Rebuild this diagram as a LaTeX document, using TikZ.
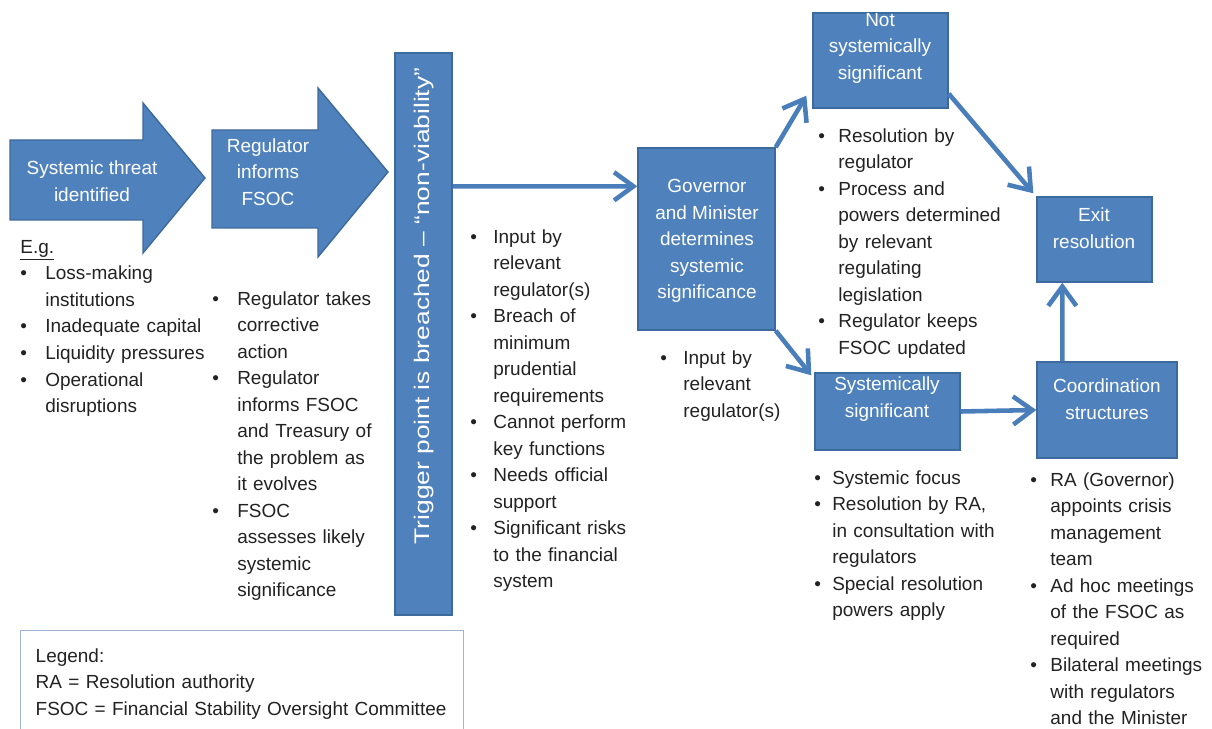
\documentclass[tikz,border=0pt]{standalone}
\usepackage{fontspec}
\setmainfont{Liberation Sans}
\usetikzlibrary{arrows.meta}

\definecolor{boxblue}{HTML}{4F81BD}
\definecolor{boxedge}{HTML}{3D6A9C}
\definecolor{linkblue}{HTML}{4A7EBB}
\definecolor{inktext}{HTML}{222222}
\definecolor{legendedge}{HTML}{9DB5D3}

\newlength{\bulind}
\newcommand{\bitem}[1]{\hangindent=\bulind\hangafter=1\noindent\makebox[\bulind][l]{\textbullet}#1\par}
\newcommand{\notefont}{\fontsize{10.8}{15.1}\selectfont}

\begin{document}
\begin{tikzpicture}[x=0.02cm,y=-0.02cm,>={Straight Barb[length=11pt,width=16pt]}]
        \tikzstyle{box}=[draw=boxedge,fill=boxblue,line width=0.8pt,inner sep=0pt]
        \tikzstyle{boxtext}=[text=white,align=center,font=\notefont,inner sep=0pt]
        \tikzstyle{link}=[draw=linkblue,line width=2.6pt,->]
        \tikzstyle{legend}=[draw=legendedge,line width=0.8pt,anchor=north west,align=left,inner xsep=0.3cm,inner ysep=0.36cm,text width=8.26cm,text=inktext,font=\notefont]
        \tikzset{notes/.style={anchor=north west,inner sep=0pt,text width=4.2cm,align=left,text=inktext,font=\notefont,execute at begin node={\setlength{\bulind}{#1}}}}
        \useasboundingbox (0,0) rectangle (1212,729);

        % first two steps
        \filldraw[box] (10,140) -- (143,140) -- (143,103) -- (205,178) -- (143,253) -- (143,220) -- (10,220) -- cycle;
        \node[boxtext] (threat) at (92,181) {Systemic threat\\identified};
        \filldraw[box] (212,130) -- (318,130) -- (318,88) -- (388,172) -- (318,257) -- (318,228) -- (212,228) -- cycle;
        \node[boxtext] (inform) at (268,172) {Regulator\\informs\\FSOC};

        % boxes
        \node[box,minimum width=1.14cm,minimum height=11.24cm] (trig) at (423.5,334) {};
        \node[boxtext,rotate=90,xscale=1.25,transform shape,font=\fontsize{12}{15}\selectfont] (trigtext) at (424,306) {Trigger point is breached – “non-viability”};
        \node[box,minimum width=2.74cm,minimum height=3.64cm] (gov) at (706.5,239) {};
        \node[boxtext] (govtext) at (707,241) {Governor\\and Minister\\determines\\systemic\\significance};
        \node[box,minimum width=2.7cm,minimum height=1.9cm] (ns) at (880.5,60.5) {};
        \node[boxtext] (nstext) at (880,48) {Not\\systemically\\significant};
        \node[box,minimum width=2.9cm,minimum height=1.54cm] (ss) at (887.5,411.5) {};
        \node[boxtext] (sstext) at (887,399) {Systemically\\significant};
        \node[box,minimum width=2.3cm,minimum height=1.7cm] (ex) at (1094.5,239.5) {};
        \node[boxtext] (extext) at (1094,228) {Exit\\resolution};
        \node[box,minimum width=2.8cm,minimum height=1.92cm] (co) at (1107,410) {};
        \node[boxtext] (cotext) at (1107,399) {Coordination\\structures};

        % connectors
        \draw[link] ([shift={(0,134)}]trig.north east) -- ([shift={(0,39)}]gov.north west);
        \draw[link] (gov.north east) -- ([shift={(-6,-13)}]ns.south west);
        \draw[link] (gov.south east) -- ([shift={(-3,3)}]ss.north west);
        \draw[link] ([shift={(0,-15)}]ns.south east) -- ([shift={(-3,-3)}]ex.north west);
        \draw[link] (ss.east) -- (co.west);
        \draw[link] ([shift={(26,0)}]co.north west) -- ([shift={(26,0)}]ex.south west);

        % bullet lists
        \node[notes=14.2pt] (eg) at (20,240) {\underline{E.g.}\par
          \bitem{Loss-making\newline institutions}
          \bitem{Inadequate capital}
          \bitem{Liquidity pressures}
          \bitem{Operational\newline disruptions}};
        \node[notes=14.2pt] (action) at (212,291) {\bitem{Regulator takes\newline corrective\newline action}
          \bitem{Regulator\newline informs FSOC\newline and Treasury of\newline the problem as\newline it evolves}
          \bitem{FSOC\newline assesses likely\newline systemic\newline significance}};
        \node[notes=13.1pt] (breach) at (470,229) {\bitem{Input by\newline relevant\newline regulator(s)}
          \bitem{Breach of\newline minimum\newline prudential\newline requirements}
          \bitem{Cannot perform\newline key functions}
          \bitem{Needs official\newline support}
          \bitem{Significant risks\newline to the financial\newline system}};
        \node[notes=13.1pt] (govin) at (660,350) {\bitem{Input by\newline relevant\newline regulator(s)}};
        \node[notes=11.4pt] (nsnotes) at (818,128) {\bitem{Resolution by\newline regulator}
          \bitem{Process and\newline powers determined\newline by relevant\newline regulating\newline legislation}
          \bitem{Regulator keeps\newline FSOC updated}};
        \node[notes=10.2pt] (ssnotes) at (814,470) {\bitem{Systemic focus}
          \bitem{Resolution by RA,\newline in consultation with\newline regulators}
          \bitem{Special resolution\newline powers apply}};
        \node[notes=11.4pt] (conotes) at (1030,472) {\bitem{RA (Governor)\newline appoints crisis\newline management\newline team}
          \bitem{Ad hoc meetings\newline of the FSOC as\newline required}
          \bitem{Bilateral meetings\newline with regulators\newline and the Minister}};

        % legend
        \node[legend] (lg) at (20,630) {Legend:\\RA = Resolution authority\\FSOC = Financial Stability Oversight Committee};
\end{tikzpicture}
\end{document}
